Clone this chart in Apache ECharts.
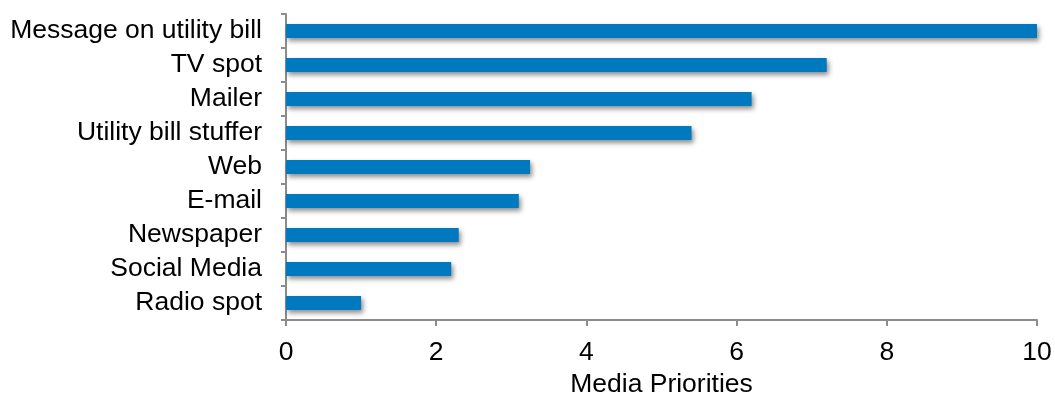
<!DOCTYPE html>
<html>
<head>
<meta charset="utf-8">
<script src="https://cdn.jsdelivr.net/npm/echarts@6/dist/echarts.min.js"></script>
<style>
html,body{margin:0;padding:0;background:#fff;}
#chart{width:1055px;height:394px;}
</style>
</head>
<body>
<div id="chart"></div>
<script>
const categories = ["Message on utility bill","TV spot","Mailer","Utility bill stuffer","Web","E-mail","Newspaper","Social Media","Radio spot"];
const values = [10, 7.2, 6.2, 5.4, 3.25, 3.1, 2.3, 2.2, 1.0];
const xTicks = [0, 2, 4, 6, 8, 10];
const xAxisName = "Media Priorities";

const chart = echarts.init(document.getElementById('chart'));
const font = 'Liberation Sans, Arial, sans-serif';
chart.setOption({
  animation: false,
  grid: {left: 286, right: 18, top: 14, bottom: 74, containLabel: false, outerBoundsMode: 'none'},
  xAxis: {
    type: 'value', min: xTicks[0], max: xTicks[xTicks.length-1], interval: 2,
    name: xAxisName, nameLocation: 'middle', nameGap: 50,
    nameTextStyle: {fontFamily: font, fontSize: 26.5, color: '#000'},
    axisLine: {show: true, lineStyle: {color: '#8c8c8c', width: 2}},
    axisTick: {show: true, length: 6, lineStyle: {color: '#8c8c8c', width: 2}},
    axisLabel: {fontFamily: font, fontSize: 26.5, color: '#000', margin: 19},
    splitLine: {show: false}
  },
  yAxis: {
    type: 'category', data: categories, inverse: true,
    axisLine: {show: true, lineStyle: {color: '#8c8c8c', width: 2}},
    axisTick: {show: true, length: 5, lineStyle: {color: '#8c8c8c', width: 2}},
    axisLabel: {fontFamily: font, fontSize: 26.5, color: '#000', margin: 24, interval: 0}
  },
  series: [{
    type: 'bar', data: values, barWidth: 14,
    itemStyle: {color: '#0079bf', shadowColor: 'rgba(0,0,0,0.45)', shadowBlur: 5, shadowOffsetX: 2, shadowOffsetY: 3}
  }]
});
</script>
</body>
</html>
